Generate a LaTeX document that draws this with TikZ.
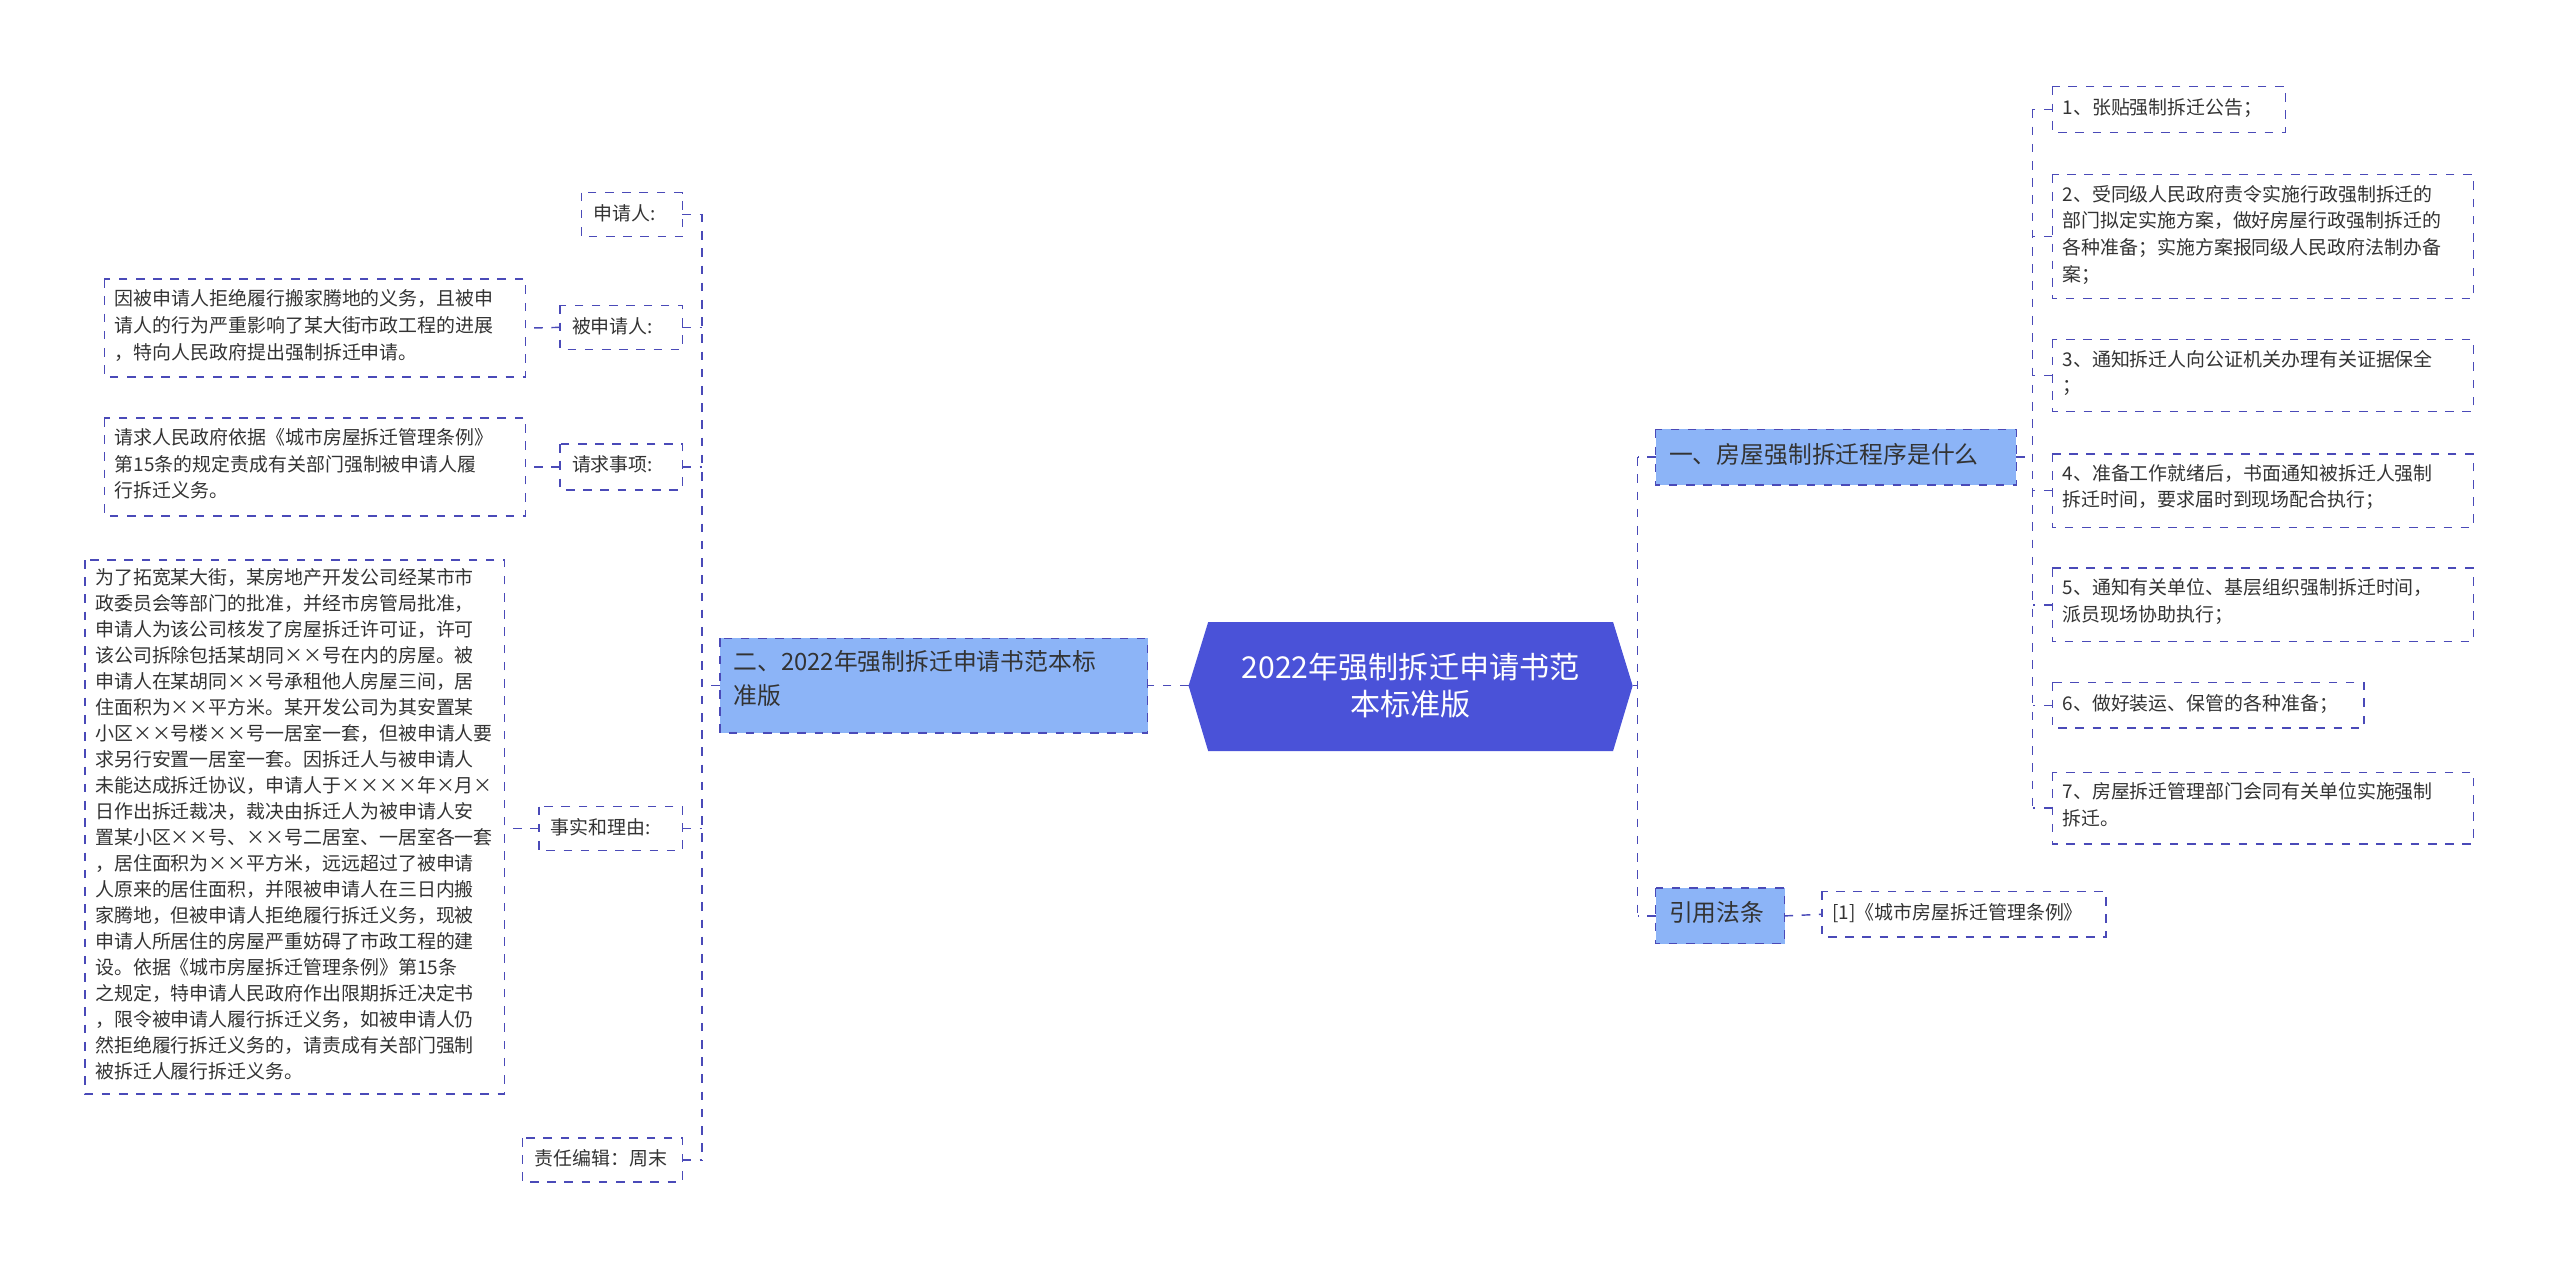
\documentclass[tikz,border=0pt]{standalone}
\usepackage{fontspec}
\setmainfont{Noto Sans CJK SC}
\begin{document}
\begin{tikzpicture}[x=0.02cm,y=-0.02cm,
 bx/.style={draw=lc,dashed,line width=0.5pt,inner sep=0pt},
 ln/.style={draw=lc,dashed,line width=0.5pt},
 tx/.style={font=\fontsize{6.6}{9.3}\selectfont,align=left,anchor=north west,inner sep=0pt,text=black!80}]
\definecolor{lc}{HTML}{4A4AB8}
\definecolor{cf}{HTML}{4A52D8}
\definecolor{bf}{HTML}{8CB4F7}
\useasboundingbox (0,0) rectangle (1568,777);
\newcommand{\bxn}[6]{\path[bx,#6] (#2,#3) rectangle (#4,#5); \coordinate (#1L) at (#2,{(#3+#5)/2}); \coordinate (#1R) at (#4,{(#3+#5)/2});}
% center
\fill[cf] (740,381) -- (988,381) -- (1000,420) -- (988,460) -- (740,460) -- (728,420) -- cycle;
\node[text=white,font=\fontsize{10.5}{13}\selectfont,align=center] (c) at (864,420) {2022年强制拆迁申请书范\\本标准版};
\coordinate (cL) at (728,420); \coordinate (cR) at (1000,420);
% left branch
\bxn{b}{441}{391}{703}{449}{fill=bf}
\node[tx,font=\fontsize{8.3}{12}\selectfont] (bt) at (449,398) {二、2022年强制拆迁申请书范本标\\准版};
\draw[ln] (cL) -- (bR);
\bxn{a1}{356}{118}{418}{145}{}
\node[tx] (a1t) at (363,125) {申请人:};
\bxn{a2}{343}{187}{418}{214}{}
\node[tx] (a2t) at (350,194) {被申请人:};
\bxn{a3}{343}{272}{418}{300}{}
\node[tx] (a3t) at (350,279) {请求事项:};
\bxn{a4}{330}{494}{418}{521}{}
\node[tx] (a4t) at (337,501) {事实和理由:};
\bxn{a5}{320}{697}{418}{724}{}
\node[tx] (a5t) at (327,704) {责任编辑：周末};
\coordinate (ls1) at (430,131); \coordinate (ls2) at (430,711);
\draw[ln] (ls1) -- (ls2);
\draw[ln] (bL) -- (430,420);
\foreach \n in {a1,a2,a3,a4,a5}{\draw[ln] (\n R) -- (430,0|-\n R);}
\bxn{d2}{64}{171}{322}{231}{}
\node[tx] (d2t) at (70,177) {因被申请人拒绝履行搬家腾地的义务，且被申\\请人的行为严重影响了某大街市政工程的进展\\，特向人民政府提出强制拆迁申请。};
\bxn{d3}{64}{256}{322}{316}{}
\node[tx] (d3t) at (70,262) {请求人民政府依据《城市房屋拆迁管理条例》\\第15条的规定责成有关部门强制被申请人履\\行拆迁义务。};
\bxn{d4}{52}{343}{309}{670}{}
\node[tx,font=\fontsize{6.6}{9.05}\selectfont] (d4t) at (58,348) {为了拓宽某大街，某房地产开发公司经某市市\\政委员会等部门的批准，并经市房管局批准，\\申请人为该公司核发了房屋拆迁许可证，许可\\该公司拆除包括某胡同××号在内的房屋。被\\申请人在某胡同××号承租他人房屋三间，居\\住面积为××平方米。某开发公司为其安置某\\小区××号楼××号一居室一套，但被申请人要\\求另行安置一居室一套。因拆迁人与被申请人\\未能达成拆迁协议，申请人于××××年×月×\\日作出拆迁裁决，裁决由拆迁人为被申请人安\\置某小区××号、××号二居室、一居室各一套\\，居住面积为××平方米，远远超过了被申请\\人原来的居住面积，并限被申请人在三日内搬\\家腾地，但被申请人拒绝履行拆迁义务，现被\\申请人所居住的房屋严重妨碍了市政工程的建\\设。依据《城市房屋拆迁管理条例》第15条\\之规定，特申请人民政府作出限期拆迁决定书\\，限令被申请人履行拆迁义务，如被申请人仍\\然拒绝履行拆迁义务的，请责成有关部门强制\\被拆迁人履行拆迁义务。};
\draw[ln] (a2L) -- (d2R);
\draw[ln] (a3L) -- (d3R);
\draw[ln] (a4L) -- (309,0|-a4L);
% right branches
\bxn{r1}{1014}{263}{1235}{297}{fill=bf}
\node[tx,font=\fontsize{8.3}{12}\selectfont] (r1t) at (1022,271) {一、房屋强制拆迁程序是什么};
\bxn{r2}{1014}{544}{1093}{578}{fill=bf}
\node[tx,font=\fontsize{8.3}{12}\selectfont] (r2t) at (1022,552) {引用法条};
\draw[ln] (cR) -- (1003,420);
\draw[ln] (1003,280) -- (1003,561);
\draw[ln] (r1L) -- (1003,0|-r1L);
\draw[ln] (r2L) -- (1003,0|-r2L);
\bxn{k}{1116}{546}{1290}{574}{}
\node[tx] (kt) at (1122,553) {[1]《城市房屋拆迁管理条例》};
\draw[ln] (r2R) -- (kL);
\bxn{s1}{1257}{53}{1400}{81}{}
\node[tx] (s1t) at (1263,60) {1、张贴强制拆迁公告；};
\bxn{s2}{1257}{107}{1515}{183}{}
\node[tx] (s2t) at (1263,113) {2、受同级人民政府责令实施行政强制拆迁的\\部门拟定实施方案，做好房屋行政强制拆迁的\\各种准备；实施方案报同级人民政府法制办备\\案；};
\bxn{s3}{1257}{208}{1515}{252}{}
\node[tx] (s3t) at (1263,214) {3、通知拆迁人向公证机关办理有关证据保全\\；};
\bxn{s4}{1257}{278}{1515}{323}{}
\node[tx] (s4t) at (1263,284) {4、准备工作就绪后，书面通知被拆迁人强制\\拆迁时间，要求届时到现场配合执行；};
\bxn{s5}{1257}{348}{1515}{393}{}
\node[tx] (s5t) at (1263,354) {5、通知有关单位、基层组织强制拆迁时间，\\派员现场协助执行；};
\bxn{s6}{1257}{418}{1448}{446}{}
\node[tx] (s6t) at (1263,425) {6、做好装运、保管的各种准备；};
\bxn{s7}{1257}{473}{1515}{517}{}
\node[tx] (s7t) at (1263,479) {7、房屋拆迁管理部门会同有关单位实施强制\\拆迁。};
\draw[ln] (r1R) -- (1245,0|-r1R);
\draw[ln] (1245,67) -- (1245,495);
\foreach \n in {s1,s2,s3,s4,s5,s6,s7}{\draw[ln] (\n L) -- (1245,0|-\n L);}
\end{tikzpicture}
\end{document}
